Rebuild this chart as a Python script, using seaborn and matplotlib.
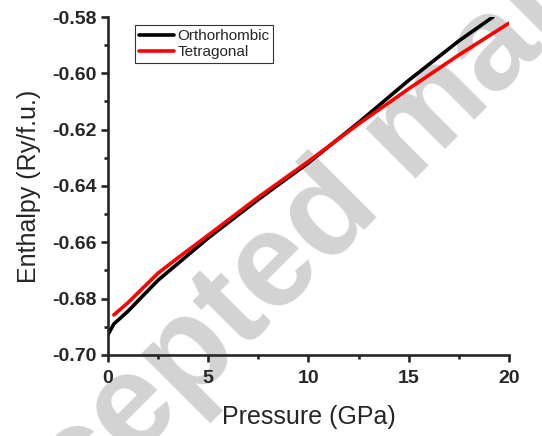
import seaborn as sns
import pandas as pd
import numpy as np
import matplotlib.pyplot as plt
from matplotlib.ticker import MultipleLocator

# values
p_ortho = [0.0, 0.3, 1.0, 2.5, 5.0, 7.5, 10.0, 12.5, 15.0, 17.5, 19.2]
h_ortho = [-0.6929, -0.6890, -0.6845, -0.6735, -0.6585, -0.6448, -0.6318,
           -0.6175, -0.6025, -0.5885, -0.5800]
p_tetra = [0.3, 1.0, 2.5, 3.5, 5.0, 7.5, 10.0, 12.5, 15.0, 17.5, 20.0]
h_tetra = [-0.6858, -0.6815, -0.6710, -0.6655, -0.6575, -0.6440, -0.6313,
           -0.6180, -0.6055, -0.5935, -0.5822]

df = pd.concat([
    pd.DataFrame({'P': p_ortho, 'H': h_ortho, 'phase': 'Orthorhombic'}),
    pd.DataFrame({'P': p_tetra, 'H': h_tetra, 'phase': 'Tetragonal'}),
])

sns.set_style('ticks')
plt.rcParams['font.family'] = ['Liberation Sans', 'DejaVu Sans']

fig = plt.figure(figsize=(5.42, 4.36), dpi=100)
ax = fig.add_axes([0.199, 0.186, 0.740, 0.775])
ax.patch.set_alpha(0)

# watermark
fig.text(-0.076, -0.457, 'Accepted manuscript', fontsize=96, fontweight='bold',
         color='#d3d3d3', rotation=45, rotation_mode='anchor',
         ha='left', va='baseline', zorder=-1)

sns.lineplot(data=df, x='P', y='H', hue='phase', palette=['black', 'red'],
             linewidth=2.6, ax=ax, sort=False)

ax.set_xlim(0, 20)
ax.set_ylim(-0.70, -0.58)
ax.xaxis.set_major_locator(MultipleLocator(5))
ax.xaxis.set_minor_locator(MultipleLocator(2.5))
ax.yaxis.set_major_locator(MultipleLocator(0.02))
ax.yaxis.set_minor_locator(MultipleLocator(0.01))
ax.yaxis.set_major_formatter(plt.FuncFormatter(lambda v, _: f'{v:.2f}'))
sns.despine(ax=ax)
for s in ['left', 'bottom']:
    ax.spines[s].set_linewidth(1.9)
ax.tick_params(which='major', length=5, width=1.9, labelsize=14)
ax.tick_params(axis='x', which='major', pad=6)
ax.tick_params(axis='y', which='major', pad=3)
ax.tick_params(which='minor', length=3, width=1.9)
for lab in ax.get_xticklabels() + ax.get_yticklabels():
    lab.set_fontweight('bold')

ax.set_xlabel('Pressure (GPa)', fontsize=18, labelpad=13)
ax.set_ylabel('Enthalpy (Ry/f.u.)', fontsize=18, labelpad=8)

leg = ax.legend(loc='upper left', bbox_to_anchor=(0.067, 0.976), fontsize=11,
                frameon=True, fancybox=False, edgecolor='black',
                handlelength=2.35, handletextpad=0.2, borderpad=0.25,
                labelspacing=0.15, borderaxespad=0)
leg.get_frame().set_linewidth(0.8)

fig.savefig('out.png', dpi=100)
